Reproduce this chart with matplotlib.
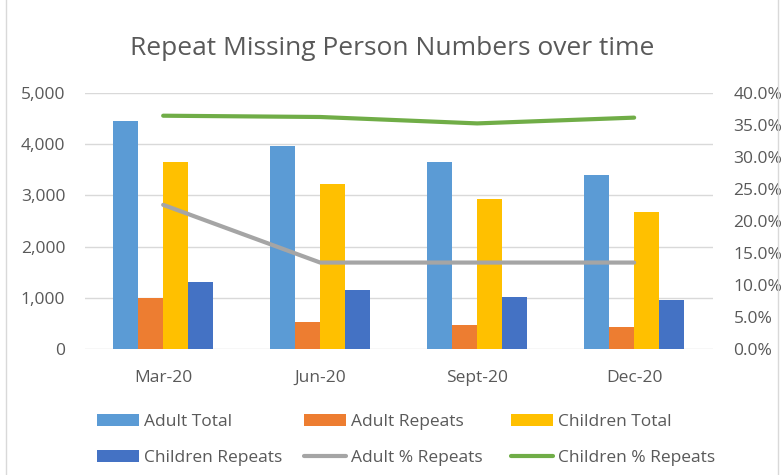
import numpy as np
import matplotlib.pyplot as plt
from matplotlib.ticker import FuncFormatter, PercentFormatter
from matplotlib.patches import Rectangle

plt.rcParams['font.family'] = ['Open Sans', 'DejaVu Sans']

months = ['Mar-20', 'Jun-20', 'Sept-20', 'Dec-20']
adult_total = [4450, 3960, 3640, 3390]
adult_repeats = [990, 520, 480, 440]
children_total = [3640, 3220, 2920, 2680]
children_repeats = [1300, 1160, 1010, 955]
adult_pct = [22.5, 13.5, 13.5, 13.5]
children_pct = [36.4, 36.2, 35.2, 36.1]

txt = '#595959'
fig = plt.figure(figsize=(7.84, 4.75), dpi=100)
fig.patches.append(Rectangle((0.008, -0.01), 0.984, 1.02, transform=fig.transFigure,
                             fill=False, edgecolor='#D9D9D9', lw=1))
ax = fig.add_axes([0.108, 0.265, 0.801, 0.54])
ax2 = ax.twinx()

x = np.arange(len(months))
w = 0.16
bars = [
    (adult_total, '#5B9BD5', 'Adult Total'),
    (adult_repeats, '#ED7D31', 'Adult Repeats'),
    (children_total, '#FFC000', 'Children Total'),
    (children_repeats, '#4472C4', 'Children Repeats'),
]
handles = []
for i, (vals, col, lab) in enumerate(bars):
    h = ax.bar(x + (i - 1.5) * w, vals, w, color=col, label=lab, zorder=2)
    handles.append(h)

l1, = ax2.plot(x, adult_pct, color='#A5A5A5', lw=3, label='Adult % Repeats', solid_capstyle='round')
l2, = ax2.plot(x, children_pct, color='#70AD47', lw=3, label='Children % Repeats', solid_capstyle='round')

ax.set_xlim(-0.5, 3.5)
ax.set_ylim(0, 5000)
ax.set_yticks(np.arange(0, 5001, 1000))
ax.yaxis.set_major_formatter(FuncFormatter(lambda v, p: f'{int(v):,}'))
ax2.set_ylim(0, 40)
ax2.set_yticks(np.arange(0, 40.1, 5))
ax2.yaxis.set_major_formatter(PercentFormatter(decimals=1))
ax.set_xticks(x)
ax.set_xticklabels(months)

ax.grid(axis='y', color='#D9D9D9', lw=1, zorder=0)
ax.set_axisbelow(True)
for a in (ax, ax2):
    for s in a.spines.values():
        s.set_visible(False)
    a.tick_params(length=0, labelsize=12.5, colors=txt)
ax.tick_params(axis='y', pad=14)
ax.tick_params(axis='x', pad=15)
ax2.tick_params(axis='y', pad=15)

fig.suptitle('Repeat Missing Person Numbers over time', y=0.925, fontsize=19, color=txt)

# legend: three columns, two rows, placed like the Excel one
cols = [(handles[0], handles[3]), (handles[1], l1), (handles[2], l2)]
for k, pair in enumerate(cols):
    fig.legend(pair, [h.get_label() for h in pair], loc='upper left',
               bbox_to_anchor=((97 + 207 * k) / 784, 1 - 414 / 475), frameon=False,
               fontsize=12.5, labelcolor=txt, handlelength=2.42, handleheight=0.69,
               handletextpad=0.29, labelspacing=1.15, borderpad=0, borderaxespad=0)

fig.savefig('out.png', dpi=100)
